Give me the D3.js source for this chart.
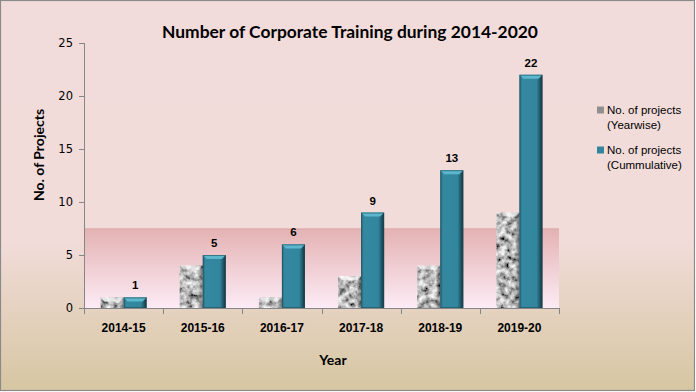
<!DOCTYPE html>
<html><head><meta charset="utf-8">
<script src="https://cdn.jsdelivr.net/npm/d3@7"></script>
<style>html,body{margin:0;padding:0;background:#fff}svg{display:block}</style>
</head><body>
<script>
const categories = ["2014-15","2015-16","2016-17","2017-18","2018-19","2019-20"];
const yearwise = [1,4,1,3,4,9];
const cumulative = [1,5,6,9,13,22];
const seriesNames = ["No. of projects (Yearwise)","No. of projects (Cummulative)"];
const yTicks = [0,5,10,15,20,25];
const title = "Number of Corporate Training during 2014-2020";

const W=696,H=392;
const svg=d3.select("body").append("svg").attr("width",W).attr("height",H);
const defs=svg.append("defs");

const bg=defs.append("linearGradient").attr("id","bg").attr("x1",0).attr("y1",0).attr("x2",0).attr("y2",1);
bg.append("stop").attr("offset","0%").attr("stop-color","#f2dcdb");
bg.append("stop").attr("offset","62%").attr("stop-color","#f1dcd9");
bg.append("stop").attr("offset","100%").attr("stop-color","#d6c6a1");
const band=defs.append("linearGradient").attr("id","band").attr("x1",0).attr("y1",0).attr("x2",0).attr("y2",1);
band.append("stop").attr("offset","0%").attr("stop-color","#e4b2b3");
band.append("stop").attr("offset","100%").attr("stop-color","#fcebf5");

const teal=defs.append("linearGradient").attr("id","teal").attr("x1",0).attr("y1",0).attr("x2",1).attr("y2",0);
teal.append("stop").attr("offset","0%").attr("stop-color","#24667a");
teal.append("stop").attr("offset","12%").attr("stop-color","#3489a0");
teal.append("stop").attr("offset","75%").attr("stop-color","#31859c");
teal.append("stop").attr("offset","88%").attr("stop-color","#22596a");
teal.append("stop").attr("offset","100%").attr("stop-color","#122f39");
const shade=defs.append("linearGradient").attr("id","shade").attr("x1",0).attr("y1",0).attr("x2",1).attr("y2",0);
shade.append("stop").attr("offset","0%").attr("stop-color","#fff").attr("stop-opacity",0.1);
shade.append("stop").attr("offset","12%").attr("stop-color","#000").attr("stop-opacity",0);
shade.append("stop").attr("offset","80%").attr("stop-color","#000").attr("stop-opacity",0);
shade.append("stop").attr("offset","100%").attr("stop-color","#000").attr("stop-opacity",0.4);

const f=defs.append("filter").attr("id","granite").attr("x","0").attr("y","0").attr("width","1").attr("height","1");
f.append("feTurbulence").attr("type","fractalNoise").attr("baseFrequency","0.16").attr("numOctaves",3).attr("seed",7).attr("result","t");
f.append("feColorMatrix").attr("in","t").attr("type","matrix")
 .attr("values","1.7 0 0 0 -0.36  1.7 0 0 0 -0.36  1.7 0 0 0 -0.36  0 0 0 0 1").attr("result","g");
f.append("feComposite").attr("in","g").attr("in2","SourceGraphic").attr("operator","in");

svg.append("rect").attr("x",0.5).attr("y",0.5).attr("width",W-2).attr("height",H-2)
  .attr("fill","url(#bg)").attr("stroke","#8a8a8a").attr("stroke-width",1.2);

const m={l:84,r:559,t:43,b:308};
const x=d3.scaleBand().domain(categories).range([m.l,m.r]).paddingInner(0).paddingOuter(0);
const xs=d3.scaleBand().domain([0,1]).range([0,x.bandwidth()]).paddingInner(0).paddingOuter(0.717);
const y=d3.scaleLinear().domain([0,25]).range([m.b,m.t]);

svg.append("rect").attr("x",m.l).attr("y",y(7.5)).attr("width",m.r-m.l).attr("height",y(0)-y(7.5)).attr("fill","url(#band)");
svg.append("line").attr("x1",m.l).attr("x2",m.r).attr("y1",y(7.5)+0.5).attr("y2",y(7.5)+0.5).attr("stroke","#dba9aa").attr("stroke-width",1);

const bw=xs.bandwidth();
function bevel(g,x0,y0,w,h,light){
  const b=Math.min(4,h/2);
  g.append("polygon").attr("points",`${x0},${y0} ${x0+w},${y0} ${x0+w-b},${y0+b} ${x0+b},${y0+b}`).attr("fill",light);
}
categories.forEach((c,i)=>{
  const g=svg.append("g");
  const x0=x(c)+xs(0), y0=y(yearwise[i]), h=y(0)-y0;
  g.append("rect").attr("x",x0).attr("y",y0).attr("width",bw).attr("height",h).attr("fill","#999").attr("filter","url(#granite)");
  g.append("rect").attr("x",x0).attr("y",y0).attr("width",bw).attr("height",h).attr("fill","url(#shade)");
  bevel(g,x0,y0,bw,h,"rgba(255,255,255,0.6)");
});
categories.forEach((c,i)=>{
  const g=svg.append("g");
  const x0=x(c)+xs(1), y0=y(cumulative[i]), h=y(0)-y0;
  g.append("rect").attr("x",x0).attr("y",y0).attr("width",bw).attr("height",h).attr("fill","url(#teal)");
  bevel(g,x0,y0,bw,h,"#5cb7cd");
  g.append("rect").attr("x",x0+0.5).attr("y",y0+0.5).attr("width",bw-1).attr("height",h-1).attr("fill","none").attr("stroke","#1f4e5c").attr("stroke-opacity",0.6).attr("stroke-width",1);
  svg.append("text").attr("x",x0+bw/2).attr("y",y0-8).attr("text-anchor","middle")
    .attr("font-family","Liberation Sans, Arial, sans-serif").attr("font-weight","bold").attr("font-size",11.5).attr("fill","#000").text(cumulative[i]);
});

const ya=svg.append("g").attr("transform",`translate(${m.l},0)`).call(d3.axisLeft(y).tickValues(yTicks).tickSize(5).tickPadding(6).tickSizeOuter(0));
ya.selectAll("path,line").attr("stroke","#868686");
ya.selectAll("text").attr("font-family","DejaVu Sans, sans-serif").attr("font-size",11.5).attr("fill","#000");
ya.select(".domain").attr("d",`M0.5,${m.t}V${m.b}`);

const xa=svg.append("g").attr("transform",`translate(0,${m.b})`);
xa.append("line").attr("x1",m.l).attr("x2",m.r).attr("y1",0.5).attr("y2",0.5).attr("stroke","#868686");
const bounds=categories.map(c=>x(c)).concat([m.r]);
xa.selectAll("line.t").data(bounds).join("line").attr("class","t").attr("x1",d=>Math.round(d)+0.5).attr("x2",d=>Math.round(d)+0.5).attr("y1",0).attr("y2",6).attr("stroke","#868686");
xa.selectAll("text").data(categories).join("text").attr("x",d=>x(d)+x.bandwidth()/2).attr("y",24).attr("text-anchor","middle")
  .attr("font-family","Liberation Sans, Arial, sans-serif").attr("font-weight","bold").attr("font-size",12).attr("fill","#000").text(d=>d);

svg.append("text").attr("x",W/2+2).attr("y",38).attr("text-anchor","middle").attr("font-family","Lato, sans-serif").attr("font-weight","bold").attr("font-size",17.4).attr("fill","#000").text(title);
svg.append("text").attr("x",333).attr("y",365).attr("text-anchor","middle").attr("font-family","Lato, sans-serif").attr("font-weight","bold").attr("font-size",14).attr("fill","#000").text("Year");
svg.append("text").attr("transform","translate(44,155) rotate(-90)").attr("text-anchor","middle").attr("font-family","Lato, sans-serif").attr("font-weight","bold").attr("font-size",14).attr("fill","#000").text("No. of Projects");

const leg=svg.append("g");
const legY=[110,150];
seriesNames.forEach((s,i)=>{
  const parts=[s.slice(0,s.indexOf("(")).trim(), s.slice(s.indexOf("("))];
  leg.append("rect").attr("x",597).attr("y",legY[i]-3.5).attr("width",7).attr("height",7)
    .attr("fill",i===0?"#8f8f8f":"#31859c");
  parts.forEach((p,j)=>leg.append("text").attr("x",607).attr("y",legY[i]+4+j*15).attr("font-family","Liberation Sans, Arial, sans-serif").attr("font-size",11.5).attr("fill","#000").text(p));
});
</script>
</body></html>
